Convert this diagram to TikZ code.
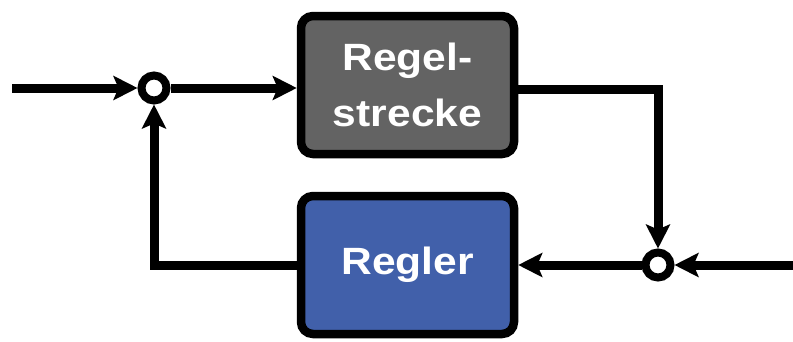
\documentclass[tikz,border=0pt]{standalone}
\usepackage{fontspec}
\setmainfont{Liberation Sans}
\newfontfamily\boxfont{Liberation Sans}[FakeStretch=1.12]
\usetikzlibrary{arrows.meta}
\definecolor{plantgray}{HTML}{636363}
\definecolor{ctrlblue}{HTML}{4160AA}
\begin{document}
\begin{tikzpicture}[x=1pt,y=-1pt,
  blk/.style={draw=black,line width=8.5pt,rounded corners=12pt,minimum width=213pt,minimum height=138pt,
    text=white,font=\boxfont\bfseries\fontsize{38}{56}\selectfont,align=center,inner sep=0pt},
  sumpt/.style={circle,draw=black,fill=white,line width=8pt,minimum size=25pt,inner sep=0pt},
  sig/.style={line width=9pt,-{Stealth[length=24pt,width=24pt,inset=5pt]}},
  wire/.style={line width=9pt}]
\useasboundingbox (0,0) rectangle (793,341);
\node[blk,fill=plantgray] (plant) at (407.5,85) {Regel-\\strecke};
\node[blk,fill=ctrlblue] (ctrl) at (407.5,265) {Regler};
\node[sumpt] (s1) at (154,88) {};
\node[sumpt] (s2) at (658,265) {};
\coordinate (in) at (12,88);
\coordinate (dist) at (793,265);
\draw[sig] (in) -- (s1);
\draw[sig] (s1) -- (plant.west |- s1);
\draw[sig,line join=miter] (plant.east |- 0,89) -| (s2);
\draw[sig] (dist) -- (s2);
\draw[sig] (s2) -- (ctrl.east |- s2);
\draw[sig,line join=miter] (ctrl.west |- s2) -| (s1);
\end{tikzpicture}
\end{document}
